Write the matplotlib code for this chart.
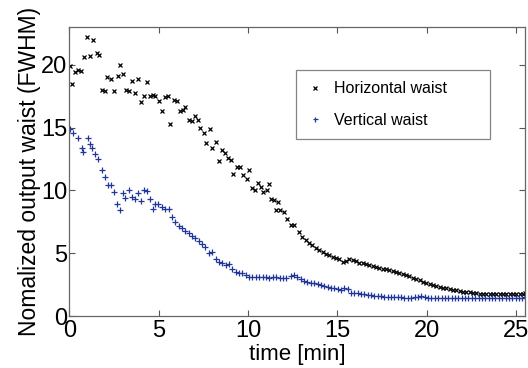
import matplotlib
matplotlib.use('Agg')
import matplotlib.pyplot as plt

# horizontal waist (x markers)
t_horiz = [0.03, 0.16, 0.31, 0.50, 0.65, 0.81, 1.00, 1.15, 1.34, 1.53, 1.67, 1.84,
           2.00, 2.12, 2.31, 2.50, 2.69, 2.84, 2.99, 3.17, 3.34, 3.49, 3.68, 3.83,
           4.02, 4.15, 4.33, 4.48, 4.67, 4.80, 5.01, 5.18, 5.37, 5.52, 5.65, 5.83,
           6.02, 6.20, 6.35, 6.48, 6.67, 6.86, 7.05, 7.18, 7.33, 7.52, 7.67, 7.85,
           8.00, 8.21, 8.36, 8.55, 8.68, 8.89, 9.02, 9.17, 9.39, 9.54, 9.71, 9.92,
           10.05, 10.24, 10.38, 10.57, 10.70, 10.85, 11.04, 11.17, 11.26, 11.45,
           11.54, 11.67, 11.79, 12.01, 12.20, 12.39, 12.57, 12.86, 13.04, 13.23,
           13.42, 13.60, 13.79, 13.98, 14.17, 14.35, 14.54, 14.73, 14.92, 15.10,
           15.29, 15.48, 15.66, 15.85, 16.04, 16.22, 16.42, 16.60, 16.79, 16.98,
           17.16, 17.35, 17.54, 17.72, 17.91, 18.10, 18.29, 18.47, 18.66, 18.85,
           19.03, 19.22, 19.41, 19.60, 19.79, 19.98, 20.16, 20.35, 20.54, 20.72,
           20.91, 21.10, 21.28, 21.47, 21.66, 21.84, 22.03, 22.22, 22.40, 22.60,
           22.78, 22.97, 23.16, 23.34, 23.53, 23.72, 23.90, 24.09, 24.28, 24.46,
           24.65, 24.84, 25.02, 25.21, 25.40, 25.52]
w_horiz = [19.9, 18.5, 19.4, 19.6, 19.5, 20.6, 22.2, 20.7, 22.0, 20.9, 20.8, 18.0,
           17.9, 19.0, 18.9, 17.9, 19.1, 20.0, 19.3, 18.0, 17.9, 18.7, 17.75, 18.9,
           17.0, 17.5, 18.6, 17.5, 17.6, 17.5, 17.1, 16.3, 17.4, 17.5, 15.3, 17.2,
           17.1, 16.3, 16.4, 16.6, 15.6, 15.5, 15.9, 15.6, 15.0, 14.6, 13.75, 14.9,
           13.4, 13.85, 12.3, 13.2, 13.0, 12.6, 12.4, 11.3, 11.85, 11.85, 11.2, 10.9,
           11.6, 10.2, 10.05, 10.6, 10.25, 9.9, 10.05, 10.5, 9.35, 9.2,
           8.4, 9.1, 8.4, 8.28, 7.75, 7.22, 7.22, 6.69, 6.3, 6.03,
           5.82, 5.63, 5.45, 5.24, 5.1, 4.97, 4.84, 4.71, 4.58, 4.5,
           4.31, 4.37, 4.5, 4.44, 4.37, 4.23, 4.18, 4.1, 4.05, 3.97,
           3.92, 3.84, 3.78, 3.73, 3.65, 3.57, 3.52, 3.42, 3.36, 3.28,
           3.15, 3.05, 2.95, 2.85, 2.74, 2.63, 2.54, 2.46, 2.39, 2.31,
           2.25, 2.19, 2.13, 2.08, 2.03, 1.99, 1.95, 1.91, 1.88, 1.85,
           1.81, 1.79, 1.77, 1.75, 1.74, 1.72, 1.72, 1.72, 1.73, 1.72,
           1.75, 1.74, 1.72, 1.73, 1.78, 1.85]

# vertical waist (+ markers)
t_vert = [0.03, 0.21, 0.46, 0.68, 0.78, 1.02, 1.15, 1.28, 1.45, 1.62, 1.81, 1.99,
          2.18, 2.33, 2.50, 2.65, 2.80, 3.00, 3.12, 3.31, 3.49, 3.64, 3.83, 4.00,
          4.18, 4.34, 4.49, 4.65, 4.80, 4.95, 5.18, 5.36, 5.55, 5.72, 5.93, 6.11,
          6.30, 6.49, 6.68, 6.86, 7.05, 7.24, 7.43, 7.61, 7.80, 7.99, 8.18, 8.36,
          8.55, 8.74, 8.93, 9.12, 9.30, 9.49, 9.68, 9.87, 10.05, 10.24, 10.43,
          10.62, 10.81, 11.00, 11.19, 11.38, 11.57, 11.76, 11.95, 12.10, 12.39,
          12.57, 12.76, 12.95, 13.13, 13.32, 13.51, 13.70, 13.89, 14.07, 14.26,
          14.45, 14.63, 14.82, 15.01, 15.20, 15.38, 15.57, 15.76, 15.94, 16.13,
          16.32, 16.51, 16.70, 16.88, 17.07, 17.26, 17.44, 17.63, 17.82, 18.00,
          18.19, 18.38, 18.57, 18.75, 18.94, 19.13, 19.32, 19.51, 19.70, 19.88,
          20.07, 20.26, 20.45, 20.64, 20.83, 21.01, 21.20, 21.39, 21.58, 21.77,
          21.96, 22.14, 22.33, 22.52, 22.71, 22.90, 23.09, 23.28, 23.46, 23.65,
          23.84, 24.03, 24.22, 24.41, 24.60, 24.78, 24.97, 25.16, 25.35, 25.52]
w_vert = [14.9, 14.6, 14.2, 13.4, 13.05, 14.2, 13.7, 13.4, 12.9, 12.5, 11.6, 11.1,
          10.45, 10.4, 9.9, 8.9, 8.45, 9.75, 9.42, 10.0, 9.47, 9.34, 9.8, 9.13,
          10.0, 9.95, 9.34, 8.55, 8.94, 8.94, 8.68, 8.55, 8.55, 7.88, 7.49, 7.2,
          7.0, 6.8, 6.6, 6.4, 6.2, 5.95, 5.7, 5.5, 5.05, 5.1, 4.55, 4.3,
          4.2, 4.08, 4.15, 3.75, 3.52, 3.45, 3.4, 3.3, 3.12, 3.08, 3.1,
          3.07, 3.1, 3.08, 3.05, 3.1, 3.07, 3.04, 3.0, 2.99, 3.17,
          3.25, 3.07, 2.91, 2.8, 2.72, 2.64, 2.59, 2.51, 2.46, 2.38,
          2.33, 2.25, 2.2, 2.12, 2.06, 2.2, 2.12, 1.85, 1.85, 1.8,
          1.75, 1.72, 1.67, 1.67, 1.61, 1.59, 1.59, 1.53, 1.53, 1.53,
          1.48, 1.48, 1.48, 1.46, 1.46, 1.47, 1.5, 1.52, 1.56, 1.5,
          1.46, 1.45, 1.45, 1.44, 1.45, 1.44, 1.43, 1.44, 1.43, 1.43,
          1.42, 1.43, 1.42, 1.41, 1.42, 1.41, 1.40, 1.41, 1.40, 1.41,
          1.40, 1.41, 1.42, 1.41, 1.42, 1.43, 1.44, 1.44, 1.46, 1.48]

plt.rcParams['font.family'] = ['Liberation Sans', 'DejaVu Sans']

fig = plt.figure(figsize=(5.28, 3.68), dpi=100)
ax = fig.add_axes([0.1316, 0.1413, 0.8627, 0.7853])

ax.plot(t_horiz, w_horiz, 'x', color='black', markersize=3.5, markeredgewidth=0.9,
        label='Horizontal waist')
ax.plot(t_vert, w_vert, '+', color='#22379a', markersize=4.5, markeredgewidth=0.9,
        label='Vertical waist')

ax.set_xlim(0, 25.5)
ax.set_ylim(0, 23)
ax.set_xticks([0, 5, 10, 15, 20, 25])
ax.set_yticks([0, 5, 10, 15, 20])
ax.tick_params(direction='in', length=4, width=0.8, top=True, right=True,
               labelsize=17, color='#555555')
ax.tick_params(axis='x', pad=3)
ax.tick_params(axis='y', pad=1.5)
for sp in ax.spines.values():
    sp.set_color('#666666')
    sp.set_linewidth(0.9)

ax.set_xlabel('time [min]', fontsize=16, labelpad=1)
ax.set_ylabel('Nomalized output waist (FWHM)', fontsize=16.5, labelpad=0)

leg = ax.legend(loc='upper left',
                bbox_to_anchor=(296 / 528, (368 - 136) / 368, 194 / 528, 66 / 368),
                bbox_transform=fig.transFigure, mode='expand', borderaxespad=0,
                fancybox=False, fontsize=11.5, markerscale=0.8, handlelength=1.0,
                handletextpad=0.7, borderpad=0.7, labelspacing=1.05,
                edgecolor='#666666')
leg.get_frame().set_linewidth(0.9)

fig.savefig('out.png', dpi=100)
